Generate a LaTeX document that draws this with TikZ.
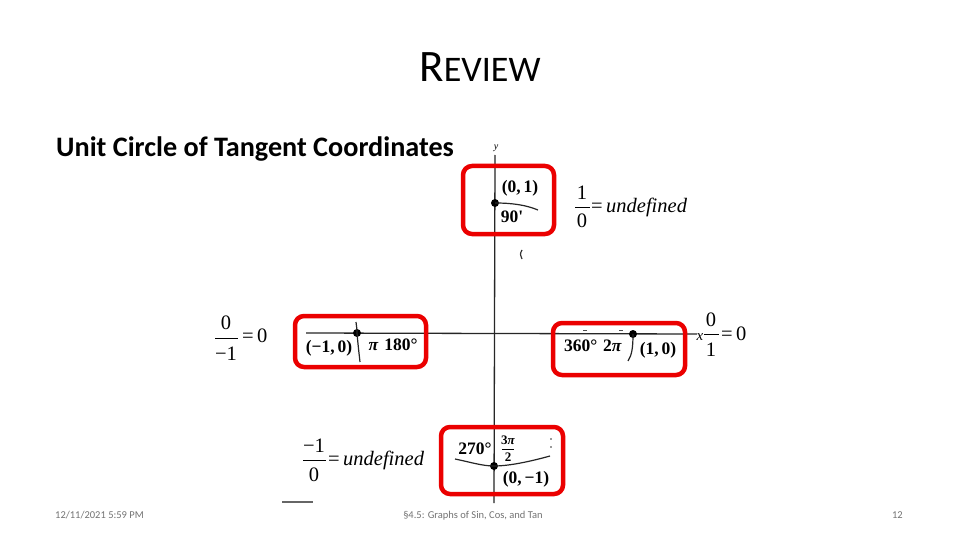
\documentclass[tikz,border=0pt]{standalone}
\usepackage{fontspec}
\setmainfont{Carlito}
\newfontfamily\scanfont{Liberation Serif}
\begin{document}
\begin{tikzpicture}[x=1pt,y=-1pt,
  redbox/.style={draw=red!92!black,line width=4.5pt,rounded corners=9pt},
  axis/.style={draw=black!85,line width=1.3pt},
  arcline/.style={draw=black!85,line width=1.2pt},
  fracbar/.style={draw=black,line width=0.9pt},
  dot/.style={circle,fill=black,inner sep=0pt,minimum size=8pt},
  lbl/.style={font=\scanfont\bfseries\fontsize{17.5}{19}\selectfont,inner sep=0pt},
  small/.style={font=\scanfont\bfseries\fontsize{13}{14}\selectfont,inner sep=0pt},
  eqt/.style={font=\scanfont\fontsize{20.5}{24}\selectfont,inner sep=0pt},
  foot/.style={font=\fontsize{10.5}{12}\selectfont,text=black!55,inner sep=0pt}]
\useasboundingbox (0,0) rectangle (960,540);
\fill[white] (0,0) rectangle (960,540);

% title and subtitle
\node[anchor=base,inner sep=0pt,font=\fontsize{45}{50}\selectfont] (title) at (480,82) {R{\fontsize{36}{40}\selectfont EVIEW}};
\node[anchor=base west,inner sep=0pt,font=\bfseries\fontsize{28.2}{32}\selectfont] (sub) at (56,157) {Unit Circle of Tangent Coordinates};

% axes
\coordinate (ytop) at (495,155);
\coordinate (ybot) at (494,503);
\coordinate (xl) at (306,333);
\coordinate (xr) at (697,334);
\draw[axis] (ytop) -- (ybot);
\draw[axis] (xl) -- (xr);
\node[font=\scanfont\itshape\fontsize{10}{11}\selectfont,inner sep=0pt] (ylab) at (496,148) {y};
\node[font=\scanfont\itshape\fontsize{15}{16}\selectfont,inner sep=0pt] (xlab) at (700,337) {x};

% points on the unit circle
\node[dot] (p90) at (495,203) {};
\node[dot] (p180) at (357,333) {};
\node[dot] (p0) at (633,334) {};
\node[dot] (p270) at (494,466) {};

% arcs of the circle
\draw[arcline] (p90.center) .. controls (512,203) and (526,205) .. (538,210);
\draw[arcline] (356,322) .. controls (357,330) .. (p180.center) .. controls (358,345) and (359,353) .. (360,362);
\draw[arcline] (p0.center) .. controls (633,347) and (632,355) .. (628,361);
\draw[arcline] (455,459) .. controls (470,462) and (482,466) .. (p270.center) .. controls (510,466) and (532,461) .. (550,456);

% small scan marks
\draw[line width=1.2pt,black!80] (522,250) .. controls (520,254) .. (522,259);
\draw[line width=0.8pt,black!70] (583,330) -- (587,330);
\draw[line width=0.8pt,black!70] (619,330) -- (623,330);
\fill[black!80] (551,439) circle (0.9pt);
\fill[black!80] (551,447) circle (0.9pt);
\draw[line width=1.2pt,black!60] (282,502) -- (313,502);

% labels in the boxes
\node[lbl] (l01) at (520,188) {(0,\,1)};
\node[lbl] (l90) at (512,217) {90'};
\node[lbl] (lm10) at (329,348) {(−1,\,0)};
\node[lbl] (l180) at (393,345) {\textit{π}\,\,180°};
\node[lbl] (l360) at (593,346) {360°\,\,2\textit{π}};
\node[lbl] (l10) at (658,350) {(1,\,0)};
\node[lbl] (l270) at (475,449) {270°};
\node[small] (l3pi) at (508,440) {3\textit{π}};
\node[small] (l2) at (508,457) {2};
\draw[fracbar,line width=0.8pt] (502,449) -- (514,449);
\node[lbl] (l0m1) at (526,479) {(0,\,−1)};

% red boxes
\draw[redbox] (463,166) rectangle (554,234);
\draw[redbox] (295,316) rectangle (426,367);
\draw[redbox] (553,323) rectangle (685,375);
\draw[redbox] (441,427) rectangle (563,494);

% equation 1/0 = undefined
\node[eqt] (n1) at (582,193) {1};
\node[eqt] (d1) at (582,221) {0};
\draw[fracbar] (575,207) -- (590,207);
\node[eqt,anchor=west] (u1) at (591,207) {=\,\textit{undefined}};

% equation 0/-1 = 0
\node[eqt] (n2) at (226,323) {0};
\node[eqt] (d2) at (226,354) {−1};
\draw[fracbar] (215,338) -- (238,338);
\node[eqt,anchor=west] (u2) at (242,336) {=\,0};

% equation 0/1 = 0
\node[eqt] (n3) at (711,320) {0};
\node[eqt] (d3) at (711,350) {1};
\draw[fracbar] (704,334) -- (719,334);
\node[eqt,anchor=west] (u3) at (721,334) {=\,0};

% equation -1/0 = undefined
\node[eqt] (n4) at (314,446) {−1};
\node[eqt] (d4) at (314,475) {0};
\draw[fracbar] (303,460) -- (326,460);
\node[eqt,anchor=west] (u4) at (328,460) {=\,\textit{undefined}};

% footer
\node[foot,anchor=base west] (date) at (55,518) {12/11/2021 5:59 PM};
\node[foot,anchor=base] (sect) at (473,518) {§4.5: Graphs of Sin, Cos, and Tan};
\node[foot,anchor=base east] (page) at (903,518) {12};
\end{tikzpicture}
\end{document}
